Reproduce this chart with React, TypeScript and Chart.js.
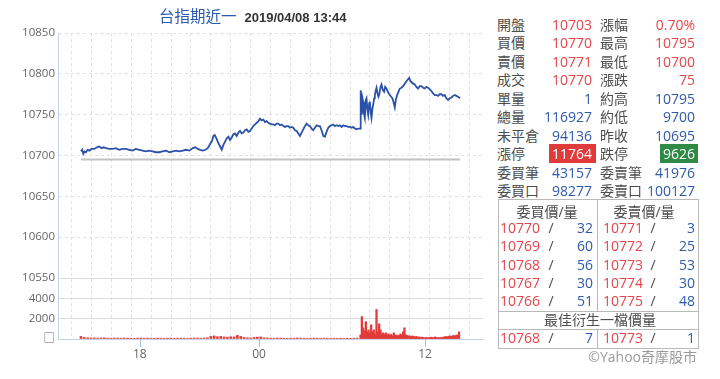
import React, { useEffect, useRef } from 'react';
import { Chart, registerables } from 'chart.js';

Chart.register(...registerables);

// ---------- DATA ----------
// trading minutes since 15:00 (night session 0..839, day session 840..1139)
const priceMinutes = [
  0, 4, 7, 11, 15, 20, 25, 32, 40, 48, 55, 62, 68, 75, 85, 95, 105, 115, 125, 135, 145, 155, 165, 175, 185, 195,
  205, 215, 225, 235, 245, 256, 266, 276, 286, 296, 306, 316, 326, 336, 343, 351, 358, 366, 374, 381, 388, 394,
  398, 402, 408, 413, 418, 423, 428, 433, 438, 443, 448, 453, 458, 463, 468, 473, 478, 483, 488, 493, 498, 503,
  508, 513, 518, 523, 528, 533, 538, 543, 548, 553, 558, 563, 568, 573, 578, 583, 588, 593, 598, 603, 608, 613,
  618, 623, 628, 633, 638, 643, 648, 653, 658, 663, 668, 673, 678, 683, 688, 693, 698, 703, 708, 713, 718, 723,
  728, 733, 738, 743, 748, 753, 758, 763, 768, 773, 778, 783, 788, 793, 798, 803, 808, 813, 818, 823, 828, 833,
  839,
  840, 841, 843, 844, 846, 848, 850, 853, 856, 858, 861, 863, 866, 868, 871, 873, 876, 878, 881, 883, 886, 888,
  891, 894, 896, 900, 903, 907, 911, 914, 918, 922, 925, 928, 932, 936, 940, 943, 946, 950, 954, 958, 963, 968,
  973, 978, 982, 986, 990, 993, 998, 1003, 1008, 1013, 1018, 1023, 1028, 1033, 1038, 1043, 1048, 1053, 1058,
  1063, 1068, 1073, 1078, 1083, 1088, 1093, 1098, 1103, 1108, 1113, 1118, 1123, 1128, 1133, 1136, 1139,
];
const priceValues = [
  10705, 10707, 10702, 10705, 10704, 10707, 10706, 10708, 10708, 10710, 10711, 10709, 10710, 10709, 10708, 10708,
  10709, 10707, 10708, 10708, 10707, 10706, 10708, 10707, 10706, 10705, 10706, 10705, 10704, 10704, 10705, 10706,
  10704, 10705, 10706, 10705, 10706, 10707, 10706, 10709, 10710, 10708, 10707, 10706, 10707, 10709, 10714, 10718,
  10724, 10725, 10720, 10715, 10711, 10707, 10713, 10717, 10721, 10723, 10719, 10722, 10726, 10727, 10724, 10728,
  10730, 10727, 10728, 10731, 10732, 10729, 10730, 10733, 10736, 10738, 10740, 10742, 10745, 10743, 10744, 10741,
  10742, 10740, 10739, 10738, 10738, 10737, 10739, 10739, 10737, 10738, 10736, 10735, 10736, 10736, 10734, 10735,
  10734, 10731, 10730, 10727, 10724, 10728, 10732, 10736, 10739, 10737, 10736, 10733, 10731, 10734, 10737, 10736,
  10736, 10731, 10724, 10723, 10729, 10734, 10736, 10737, 10738, 10736, 10737, 10736, 10737, 10735, 10737, 10736,
  10736, 10735, 10735, 10734, 10735, 10733, 10732, 10733, 10733,
  10760, 10780, 10755, 10750, 10770, 10766, 10752, 10746, 10768, 10770, 10755, 10750, 10764, 10766, 10752, 10746,
  10758, 10762, 10770, 10774, 10780, 10783, 10776, 10772, 10774, 10784, 10787, 10780, 10778, 10784, 10782, 10778,
  10776, 10774, 10772, 10770, 10764, 10759, 10768, 10774, 10778, 10782, 10783, 10785, 10788, 10791, 10793, 10795,
  10791, 10790, 10788, 10787, 10784, 10782, 10785, 10785, 10783, 10782, 10784, 10783, 10781, 10779, 10776, 10774,
  10774, 10773, 10775, 10775, 10773, 10774, 10770, 10768, 10770, 10771, 10773, 10774, 10773, 10772, 10771, 10770,
];
const prevClose = 10695;
const sessionEnd = 1139;

const nightVolStart = 0;
const nightVolStep = 10;
const nightVolumes = [
  250, 150, 120, 100, 110, 90, 100, 120, 90, 80, 100, 90, 80, 100, 90, 80, 70, 90, 100, 80, 90, 80, 70, 90, 80, 70,
  80, 90, 70, 80, 90, 80, 70, 90, 100, 90, 80, 100, 120, 250, 300, 220, 250, 200, 180, 220, 200, 350, 250, 150,
  120, 100, 150, 180, 200, 120, 100, 90, 80, 100, 90, 80, 70, 90, 80, 100, 90, 80, 70, 80, 90, 80, 70, 90, 80, 70,
  80, 70, 80, 70, 80, 70, 80, 90,
];
const dayVolStart = 840;
const dayVolStep = 4;
const dayVolumes = [
  400, 2200, 1100, 800, 1700, 700, 900, 600, 1400, 700, 900, 500, 2900, 700, 1500, 900, 500, 600, 450, 600, 400,
  500, 350, 450, 300, 600, 350, 400, 300, 350, 500, 400, 700, 1100, 400, 350, 300, 300, 250, 300, 250, 200, 250,
  180, 200, 150, 180, 150, 120, 150, 120, 140, 150, 180, 150, 120, 200, 150, 130, 120, 150, 130, 180, 200, 250,
  200, 250, 300, 250, 300, 350, 250, 400, 350, 700,
];

const xLabelTicks = [177, 535, 1034];
const xLabelTexts = ['18', '00', '12'];

const priceTicksMin = 10550;
const priceTicksMax = 10850;
const priceStep = 50;
const volMax = 6000;
const volStep = 2000;

const infoLabelsL = ['開盤', '買價', '賣價', '成交', '單量', '總量', '未平倉', '漲停', '委買筆', '委買口'];
const infoValuesL = ['10703', '10770', '10771', '10770', '1', '116927', '94136', '11764', '43157', '98277'];
const infoLabelsR = ['漲幅', '最高', '最低', '漲跌', '約高', '約低', '昨收', '跌停', '委賣筆', '委賣口'];
const infoValuesR = ['0.70%', '10795', '10700', '75', '10795', '9700', '10695', '9626', '41976', '100127'];

const bidPrices = ['10770', '10769', '10768', '10767', '10766'];
const bidQty = ['32', '60', '56', '30', '51'];
const askPrices = ['10771', '10772', '10773', '10774', '10775'];
const askQty = ['3', '25', '53', '30', '48'];
const bestBid = ['10768', '7'];
const bestAsk = ['10773', '1'];

// ---------- STYLE ----------
const RED = '#e4464d';
const BLUE = '#2f5aab';
const LABEL = '#4d4d4d';
const FONT = '"Open Sans", "Noto Sans CJK TC", sans-serif';

type TProps = { x: number; y: number; text: string; color?: string; align?: 'left' | 'right' | 'center'; size?: number; weight?: number | string; family?: string };
function T({ x, y, text, color = LABEL, align = 'left', size = 14, weight = 400, family = FONT }: TProps) {
  const style: React.CSSProperties = {
    position: 'absolute',
    top: y - 10,
    height: 20,
    lineHeight: '20px',
    fontSize: size,
    fontWeight: weight as any,
    fontFamily: family,
    color,
    whiteSpace: 'nowrap',
  };
  if (align === 'left') style.left = x;
  else if (align === 'right') { style.right = 720 - x; style.textAlign = 'right'; }
  else { style.left = x - 100; style.width = 200; style.textAlign = 'center'; }
  return <div style={style}>{text}</div>;
}

function Line({ x, y, w, h, c = '#b9b9b9' }: { x: number; y: number; w: number; h: number; c?: string }) {
  return <div style={{ position: 'absolute', left: x, top: y, width: w, height: h, background: c }} />;
}

// draws the short blue tick marks under the labelled x positions
const labelTickPlugin = {
  id: 'labelTickMarks',
  afterDraw(chart: any) {
    const sx = chart.scales.x;
    const ctx = chart.ctx;
    ctx.save();
    ctx.strokeStyle = '#a9bcd9';
    ctx.lineWidth = 1;
    xLabelTicks.forEach((v) => {
      const px = Math.round(sx.getPixelForValue(v)) + 0.5;
      ctx.beginPath();
      ctx.moveTo(px, sx.top);
      ctx.lineTo(px, sx.top + 8);
      ctx.stroke();
    });
    ctx.restore();
  },
};

export default function App() {
  const canvasRef = useRef<HTMLCanvasElement | null>(null);

  useEffect(() => {
    if (!canvasRef.current) return;
    const priceData = priceMinutes.map((m, i) => ({ x: m, y: priceValues[i] }));
    const nightData = nightVolumes.map((v, i) => ({ x: nightVolStart + i * nightVolStep, y: v }));
    const dayData = dayVolumes.map((v, i) => ({ x: dayVolStart + i * dayVolStep, y: v }));
    const xMin = -69;
    const xMax = 1208;
    const gridStart = -58;
    const gridEnd = 1197;
    const gridCount = 21;
    const gridTicks: number[] = [];
    for (let k = 0; k <= gridCount; k++) gridTicks.push(gridStart + ((gridEnd - gridStart) * k) / gridCount);

    const chart = new Chart(canvasRef.current, {
      type: 'line',
      plugins: [labelTickPlugin],
      data: {
        datasets: [
          {
            type: 'line',
            data: priceData,
            xAxisID: 'x',
            yAxisID: 'y',
            borderColor: '#2b52a9',
            borderWidth: 1.8,
            pointRadius: 0,
            tension: 0,
          } as any,
          {
            type: 'line',
            data: [{ x: 0, y: prevClose }, { x: sessionEnd, y: prevClose }],
            xAxisID: 'x',
            yAxisID: 'y',
            borderColor: '#c2c2c2',
            borderWidth: 2,
            pointRadius: 0,
          } as any,
          {
            type: 'bar',
            data: nightData,
            xAxisID: 'x',
            yAxisID: 'yv',
            backgroundColor: '#e23a3a',
            barThickness: 2,
            grouped: false,
          } as any,
          {
            type: 'bar',
            data: dayData,
            xAxisID: 'x',
            yAxisID: 'yv',
            backgroundColor: '#e23a3a',
            barThickness: 1.6,
            grouped: false,
          } as any,
        ],
      },
      options: {
        animation: false,
        responsive: true,
        maintainAspectRatio: false,
        devicePixelRatio: 1,
        layout: { padding: { top: 33, right: 7, left: 0, bottom: 0 } },
        plugins: { legend: { display: false }, tooltip: { enabled: false }, title: { display: false } },
        scales: {
          x: {
            type: 'linear',
            position: 'bottom',
            min: xMin,
            max: xMax,
            offset: false,
            afterBuildTicks: (scale: any) => {
              scale.ticks = [...gridTicks, ...xLabelTicks].map((v) => ({ value: v }));
            },
            afterFit: (scale: any) => {
              scale.height = 40;
            },
            ticks: {
              autoSkip: false,
              maxRotation: 0,
              padding: 8,
              color: '#666',
              font: { size: 12, family: FONT },
              callback: (value: any) => {
                const i = xLabelTicks.indexOf(Number(value));
                return i >= 0 ? xLabelTexts[i] : '';
              },
            },
            grid: {
              drawTicks: false,
              color: (ctx: any) => (ctx.tick && xLabelTicks.includes(ctx.tick.value) ? 'rgba(0,0,0,0)' : '#e2e2e2'),
              lineWidth: 1,
            },
            border: { display: true, color: '#c4d3ea', width: 1, dash: [3, 3] },
          },
          yv: {
            type: 'linear',
            position: 'left',
            stack: 'v',
            stackWeight: 61,
            min: 0,
            max: volMax,
            afterFit: (scale: any) => {
              scale.width = 58;
            },
            ticks: {
              stepSize: volStep,
              autoSkip: false,
              padding: 3,
              color: '#666',
              font: { size: 11.5, family: FONT },
              callback: (value: any) => {
                const v = Number(value);
                if (v === volMax) return '';
                if (v === 0) return '□';
                return String(v);
              },
            },
            grid: { drawTicks: false, color: '#dcdcdc', lineWidth: 1 },
            border: { display: true, color: '#c4d3ea', width: 1 },
          },
          y: {
            type: 'linear',
            position: 'left',
            stack: 'v',
            stackWeight: 245,
            min: priceTicksMin,
            max: priceTicksMax,
            afterFit: (scale: any) => {
              scale.width = 58;
            },
            ticks: {
              stepSize: priceStep,
              autoSkip: false,
              padding: 3,
              color: '#666',
              font: { size: 11.5, family: FONT },
              callback: (value: any) => String(value),
            },
            grid: { drawTicks: false, color: '#e0e0e0', lineWidth: 1 },
            border: { display: true, color: '#c4d3ea', width: 1, dash: [3, 3] },
          },
        },
      } as any,
    });
    return () => chart.destroy();
  }, []);

  const rowY = (i: number) => 25 + 18.45 * i;
  const tableRowY = (i: number) => 228 + 18.3 * i;

  return (
    <div style={{ position: 'fixed', left: 0, top: 0, width: 720, height: 379, background: '#fff', fontFamily: FONT, overflow: 'hidden' }}>
      <div style={{ position: 'absolute', left: 0, top: 0, width: 490, height: 379 }}>
        <canvas ref={canvasRef} />
      </div>

      {/* title */}
      <div style={{ position: 'absolute', left: 159, top: 4, height: 22, lineHeight: '22px', whiteSpace: 'nowrap' }}>
        <span style={{ fontFamily: '"Noto Sans CJK TC", sans-serif', fontSize: 15.5, color: '#2b5bb0' }}>台指期近一</span>
        <span style={{ fontFamily: '"Liberation Sans", Arial, sans-serif', fontSize: 13, fontWeight: 700, color: '#333', marginLeft: 8 }}>2019/04/08 13:44</span>
      </div>

      {/* info grid */}
      {infoLabelsL.map((l, i) => (
        <T key={'ll' + i} x={497} y={rowY(i)} text={l} />
      ))}
      {infoLabelsR.map((l, i) => (
        <T key={'lr' + i} x={600} y={rowY(i)} text={l} />
      ))}
      <div style={{ position: 'absolute', left: 549, top: 144, width: 47, height: 19, background: '#e03a3a' }} />
      <div style={{ position: 'absolute', left: 660, top: 144, width: 38, height: 19, background: '#2e8a44' }} />
      {infoValuesL.map((v, i) => (
        <T key={'vl' + i} x={592} y={rowY(i)} text={v} align="right" color={i === 7 ? '#fff' : i < 4 ? RED : BLUE} />
      ))}
      {infoValuesR.map((v, i) => (
        <T key={'vr' + i} x={695} y={rowY(i)} text={v} align="right" color={i === 7 ? '#fff' : i < 4 ? RED : BLUE} />
      ))}

      {/* order book table */}
      <div style={{ position: 'absolute', left: 498, top: 199, width: 199, height: 148, border: '1px solid #b9b9b9' }} />
      <Line x={597} y={199} w={1} h={113} />
      <Line x={498} y={311} w={200} h={1} />
      <Line x={498} y={329} w={200} h={1} />
      <Line x={597} y={329} w={1} h={19} />
      <T x={547} y={212} text="委買價/量" align="center" />
      <T x={644} y={212} text="委賣價/量" align="center" />
      {bidPrices.map((p, i) => (
        <React.Fragment key={'b' + i}>
          <T x={500} y={tableRowY(i)} text={p} color={RED} />
          <T x={551} y={tableRowY(i)} text="/" align="center" color={LABEL} />
          <T x={593} y={tableRowY(i)} text={bidQty[i]} align="right" color={BLUE} />
        </React.Fragment>
      ))}
      {askPrices.map((p, i) => (
        <React.Fragment key={'a' + i}>
          <T x={603} y={tableRowY(i)} text={p} color={RED} />
          <T x={653} y={tableRowY(i)} text="/" align="center" color={LABEL} />
          <T x={695} y={tableRowY(i)} text={askQty[i]} align="right" color={BLUE} />
        </React.Fragment>
      ))}
      <T x={600} y={320} text="最佳衍生一檔價量" align="center" />
      <T x={500} y={338} text={bestBid[0]} color={RED} />
      <T x={551} y={338} text="/" align="center" />
      <T x={593} y={338} text={bestBid[1]} align="right" color={BLUE} />
      <T x={603} y={338} text={bestAsk[0]} color={RED} />
      <T x={653} y={338} text="/" align="center" />
      <T x={695} y={338} text={bestAsk[1]} align="right" color={BLUE} />
      <T x={697} y={357} text="©Yahoo奇摩股市" align="right" color="#9a9a9a" />
    </div>
  );
}
